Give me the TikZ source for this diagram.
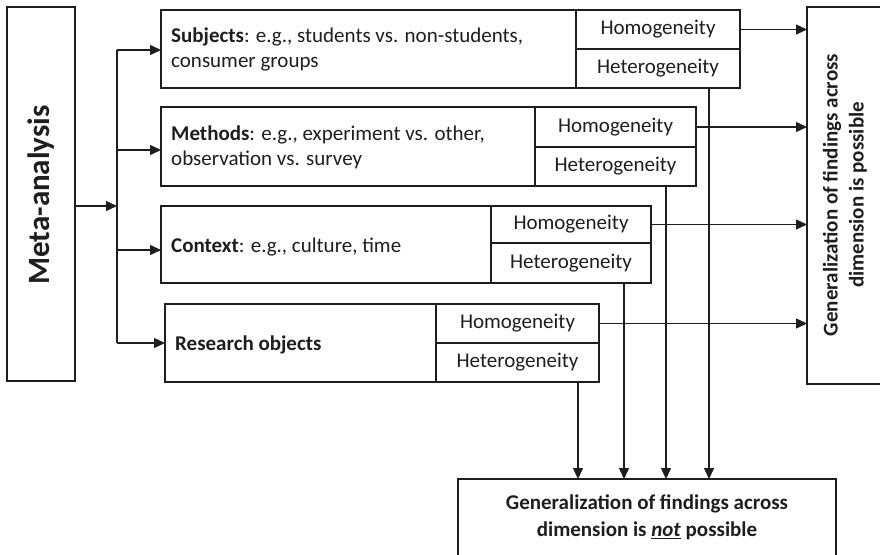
\documentclass[tikz,border=0pt]{standalone}
\usepackage{fontspec}
\setmainfont{Carlito}
\usetikzlibrary{arrows.meta}
\definecolor{ink}{HTML}{1E1E1E}
\tikzset{
  cell/.style={draw=ink, line width=1.4pt, inner sep=0pt, outer sep=0pt, rectangle, font=\fontsize{21}{25}\selectfont, text=ink},
  txt/.style={inner sep=0pt, text=ink, font=\fontsize{21}{25}\selectfont},
  arr/.style={draw=ink, line width=1.4pt, -{Triangle[length=11pt,width=10pt]}},
  ln/.style={draw=ink, line width=1.4pt}
}
\begin{document}
\begin{tikzpicture}[x=1pt,y=-1pt]
\useasboundingbox (0,0) rectangle (880,554);
\clip (0,0) rectangle (880,554);
% Meta-analysis
\node[cell,minimum width=68,minimum height=374,anchor=north west] (meta) at (7,7) {};
\node[txt,rotate=90,font=\fontsize{31}{36}\selectfont\bfseries] (metaT) at (41,195) {Meta-analysis};
% Subjects
\node[cell,minimum width=415,minimum height=78,anchor=north west] (sL) at (161,10) {};
\node[txt,anchor=west,align=left] (sT) at (171,49) {\textbf{Subjects}: e.g., students vs. non-students,\\consumer groups};
\node[cell,minimum width=164,minimum height=39,anchor=north west] (sHo) at (576,10) {Homogeneity};
\node[cell,minimum width=164,minimum height=39,anchor=north west] (sHe) at (576,49) {Heterogeneity};
% Methods
\node[cell,minimum width=374,minimum height=79,anchor=north west] (mL) at (161,107) {};
\node[txt,anchor=west,align=left] (mT) at (171,147) {\textbf{Methods}: e.g., experiment vs. other,\\observation vs. survey};
\node[cell,minimum width=161,minimum height=40,anchor=north west] (mHo) at (535,107) {Homogeneity};
\node[cell,minimum width=161,minimum height=39,anchor=north west] (mHe) at (535,147) {Heterogeneity};
% Context
\node[cell,minimum width=330,minimum height=77,anchor=north west] (cL) at (161,206) {};
\node[txt,anchor=west] (cT) at (171,247) {\textbf{Context}: e.g., culture, time};
\node[cell,minimum width=160,minimum height=37,anchor=north west] (cHo) at (491,206) {Homogeneity};
\node[cell,minimum width=160,minimum height=40,anchor=north west] (cHe) at (491,243) {Heterogeneity};
% Research objects
\node[cell,minimum width=271,minimum height=78,anchor=north west] (rL) at (165,304) {};
\node[txt,anchor=west] (rT) at (175,345) {\textbf{Research objects}};
\node[cell,minimum width=163,minimum height=39,anchor=north west] (rHo) at (436,304) {Homogeneity};
\node[cell,minimum width=163,minimum height=39,anchor=north west] (rHe) at (436,343) {Heterogeneity};
% Right box
\node[cell,minimum width=110,minimum height=377,anchor=north west] (pos) at (807,7) {};
\node[txt,rotate=90,align=center,font=\fontsize{21}{26}\selectfont\bfseries] (posT) at (845,195) {Generalization of findings across\\dimension is possible};
% Bottom box
\node[cell,minimum width=378,minimum height=110,anchor=north west] (neg) at (458,479) {};
\node[txt,align=center,font=\fontsize{21}{27}\selectfont\bfseries] (negT) at (647,517) {Generalization of findings across\\dimension is \underline{\textit{not}} possible};
% Trunk
\coordinate (tm) at (117,206);
\coordinate (t1) at (117,50);
\coordinate (t2) at (117,150);
\coordinate (t3) at (117,250);
\coordinate (t4) at (117,343);
\draw[arr] (meta.east |- tm) -- (tm);
\draw[ln] (t1) -- (t4);
\draw[arr] (t1) -- (t1 -| sL.west);
\draw[arr] (t2) -- (t2 -| mL.west);
\draw[arr] (t3) -- (t3 -| cL.west);
\draw[arr] (t4) -- (t4 -| rL.west);
% To right box
\draw[arr] (sHo.east) -- (sHo.east -| pos.west);
\draw[arr] (mHo.east) -- (mHo.east -| pos.west);
\draw[arr] (cHo.east) -- (cHo.east -| pos.west);
\draw[arr] (rHo.east) -- (rHo.east -| pos.west);
% Down arrows
\coordinate (d1) at (709,88);
\coordinate (d2) at (666,186);
\coordinate (d3) at (624,283);
\coordinate (d4) at (578,382);
\draw[arr] (d1) -- (d1 |- neg.north);
\draw[arr] (d2) -- (d2 |- neg.north);
\draw[arr] (d3) -- (d3 |- neg.north);
\draw[arr] (d4) -- (d4 |- neg.north);
\end{tikzpicture}
\end{document}
